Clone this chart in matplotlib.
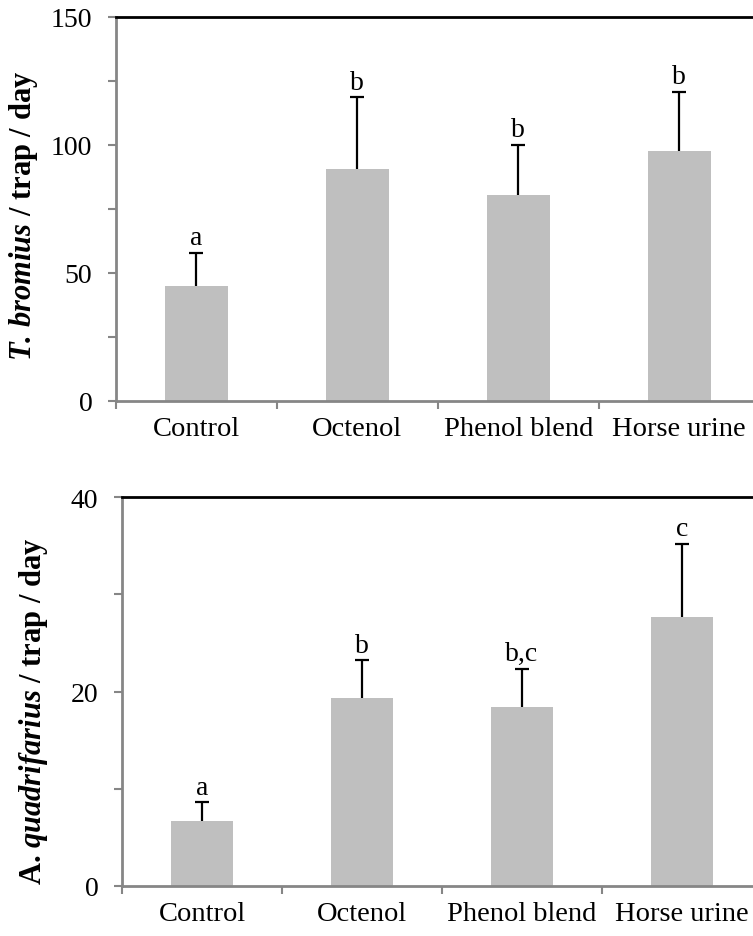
import numpy as np
import matplotlib
matplotlib.use("Agg")
import matplotlib.pyplot as plt
from matplotlib.ticker import MultipleLocator, FixedLocator, NullFormatter

plt.rcParams["font.family"] = ["Liberation Serif", "DejaVu Serif"]
plt.rcParams["mathtext.fontset"] = "custom"
plt.rcParams["mathtext.rm"] = "Liberation Serif"
plt.rcParams["mathtext.it"] = "Liberation Serif:italic"
plt.rcParams["mathtext.bf"] = "Liberation Serif:bold"
plt.rcParams["mathtext.bfit"] = "Liberation Serif:italic:bold"

categories = ["Control", "Octenol", "Phenol blend", "Horse urine"]

# T. bromius (top panel)
brom_mean = [44.9, 90.6, 80.5, 97.6]
brom_err = [12.9, 28.0, 19.5, 23.0]
brom_letters = ["a", "b", "b", "b"]

# A. quadrifarius (bottom panel)
quad_mean = [6.7, 19.3, 18.4, 27.7]
quad_err = [1.9, 3.9, 3.9, 7.5]
quad_letters = ["a", "b", "b,c", "c"]

BAR = "#bfbfbf"
SPINE = "#868686"

fig = plt.figure(figsize=(7.53, 9.37), dpi=100)
ax1 = fig.add_axes([0.154, 0.571, 0.855, 0.4098])
ax2 = fig.add_axes([0.162, 0.0534, 0.85, 0.415])


def panel(ax, means, errs, letters, ymax, major, minor, ylabel, lab_xy):
    x = np.arange(len(categories))
    ax.bar(x, means, width=0.39, color=BAR, zorder=2)
    _, caps, _ = ax.errorbar(x, means, yerr=[np.zeros(len(errs)), errs], fmt="none",
                             ecolor="black", elinewidth=1.6, capsize=5,
                             capthick=1.6, zorder=3)
    caps[0].set_visible(False)  # only the upper cap
    for xi, m, e, lt in zip(x, means, errs, letters):
        ax.annotate(lt, (xi, m + e), xytext=(0, 2), textcoords="offset points",
                    ha="center", va="bottom", fontsize=20)
    ax.set_xlim(-0.5, 3.5)
    ax.set_ylim(0, ymax)
    ax.yaxis.set_major_locator(MultipleLocator(major))
    ax.yaxis.set_minor_locator(MultipleLocator(minor))
    ax.yaxis.set_minor_formatter(NullFormatter())
    ax.set_xticks(x)
    ax.set_xticklabels(categories)
    ax.xaxis.set_minor_locator(FixedLocator([-0.5, 0.5, 1.5, 2.5, 3.5]))
    ax.tick_params(axis="x", which="major", length=0, pad=11, labelsize=20.5)
    ax.tick_params(axis="x", which="minor", length=6, width=1.5, color=SPINE,
                   direction="out")
    ax.tick_params(axis="y", which="both", length=6, width=1.5, color=SPINE,
                   direction="out", labelsize=20, pad=11)
    for s in ["left", "bottom"]:
        ax.spines[s].set_color(SPINE)
        ax.spines[s].set_linewidth(2)
    ax.spines["right"].set_visible(False)
    ax.spines["top"].set_color("black")
    ax.spines["top"].set_linewidth(2)
    ax.set_ylabel(ylabel, fontsize=22, fontweight="bold")
    ax.yaxis.set_label_coords(*lab_xy)


panel(ax1, brom_mean, brom_err, brom_letters, 150, 50, 25,
      r"$\mathbfit{T.\,bromius}$ / trap / day", (-0.118, 0.484))
panel(ax2, quad_mean, quad_err, quad_letters, 40, 20, 10,
      r"A. $\mathbfit{quadrifarius}$ / trap / day", (-0.1125, 0.452))

fig.savefig("out.png", dpi=100)
